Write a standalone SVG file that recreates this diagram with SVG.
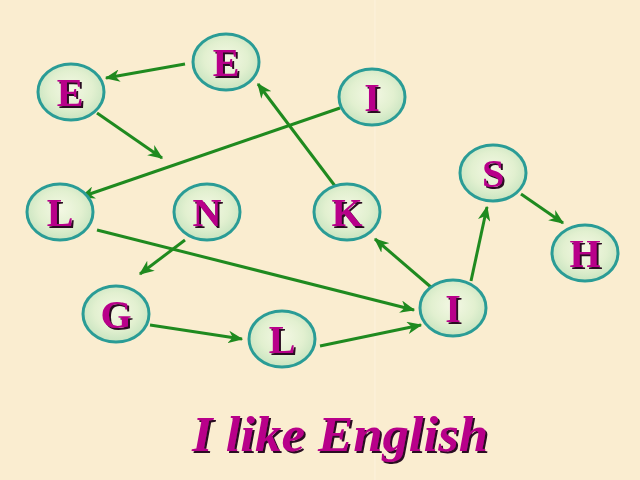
<svg xmlns="http://www.w3.org/2000/svg" width="640" height="480" viewBox="0 0 640 480">
<defs>
<radialGradient id="nodeFill" cx="50%" cy="45%" r="55%">
<stop offset="0" stop-color="#f4f8e4"/>
<stop offset="0.6" stop-color="#e2f0d0"/>
<stop offset="1" stop-color="#c8e4c0"/>
</radialGradient>
<filter id="shadow" x="-20%" y="-20%" width="140%" height="140%">
<feDropShadow dx="2" dy="2" stdDeviation="0.4" flood-color="#2a1020" flood-opacity="1"/>
</filter>
<marker id="arr" viewBox="0 0 12 10" refX="11" refY="5" markerWidth="5" markerHeight="4.2" orient="auto" markerUnits="strokeWidth">
<path d="M0,0 L12,5 L0,10 L3.5,5 Z" fill="#1f8a1f"/>
</marker>
</defs>
<style>
.node ellipse{fill:url(#nodeFill);stroke:#2a9c96;stroke-width:3}
.lbl{font-family:"Liberation Serif",serif;font-weight:bold;font-size:40px;text-anchor:middle;fill:#b8008a;filter:url(#shadow)}
.edges line{stroke:#1f8a1f;stroke-width:3;marker-end:url(#arr)}
.title{font-family:"Liberation Serif",serif;font-weight:bold;font-style:italic;font-size:50px;fill:#b8008a;filter:url(#shadow)}
</style>
<rect width="640" height="480" fill="#faedd0"/>
<line x1="375" y1="0" x2="375" y2="480" stroke="#fff6e6" stroke-width="1" opacity="0.6"/>
<g class="edges">
<line x1="185" y1="64" x2="106" y2="78"/>
<line x1="97" y1="113" x2="162" y2="158"/>
<line x1="340" y1="108" x2="81" y2="197"/>
<line x1="335" y1="186" x2="258" y2="84"/>
<line x1="97" y1="230" x2="414" y2="310"/>
<line x1="185" y1="240" x2="140" y2="274"/>
<line x1="150" y1="325" x2="242" y2="339"/>
<line x1="320" y1="346" x2="421" y2="325"/>
<line x1="432" y1="288" x2="375" y2="239"/>
<line x1="471" y1="281" x2="487" y2="207"/>
<line x1="521" y1="194" x2="563" y2="223"/>
</g>
<g id="node-E1" class="node"><ellipse cx="226" cy="62" rx="33" ry="28"/><text class="lbl" x="226" y="76">E</text></g>
<g id="node-E2" class="node"><ellipse cx="71" cy="92" rx="33" ry="28"/><text class="lbl" x="70" y="106">E</text></g>
<g id="node-I1" class="node"><ellipse cx="372" cy="97" rx="33" ry="28"/><text class="lbl" x="372" y="111">I</text></g>
<g id="node-S" class="node"><ellipse cx="493" cy="173" rx="33" ry="28"/><text class="lbl" x="493" y="187">S</text></g>
<g id="node-L1" class="node"><ellipse cx="60" cy="212" rx="33" ry="28"/><text class="lbl" x="60" y="226">L</text></g>
<g id="node-N" class="node"><ellipse cx="207" cy="212" rx="33" ry="28"/><text class="lbl" x="207" y="226">N</text></g>
<g id="node-K" class="node"><ellipse cx="347" cy="212" rx="33" ry="28"/><text class="lbl" x="347" y="226">K</text></g>
<g id="node-H" class="node"><ellipse cx="585" cy="253" rx="33" ry="28"/><text class="lbl" x="585" y="267">H</text></g>
<g id="node-I2" class="node"><ellipse cx="453" cy="308" rx="33" ry="28"/><text class="lbl" x="453" y="322">I</text></g>
<g id="node-G" class="node"><ellipse cx="116" cy="314" rx="33" ry="28"/><text class="lbl" x="116" y="328">G</text></g>
<g id="node-L2" class="node"><ellipse cx="282" cy="339" rx="33" ry="28"/><text class="lbl" x="282" y="353">L</text></g>
<text class="title" x="192" y="451" textLength="296" lengthAdjust="spacingAndGlyphs">I like English</text>
</svg>
